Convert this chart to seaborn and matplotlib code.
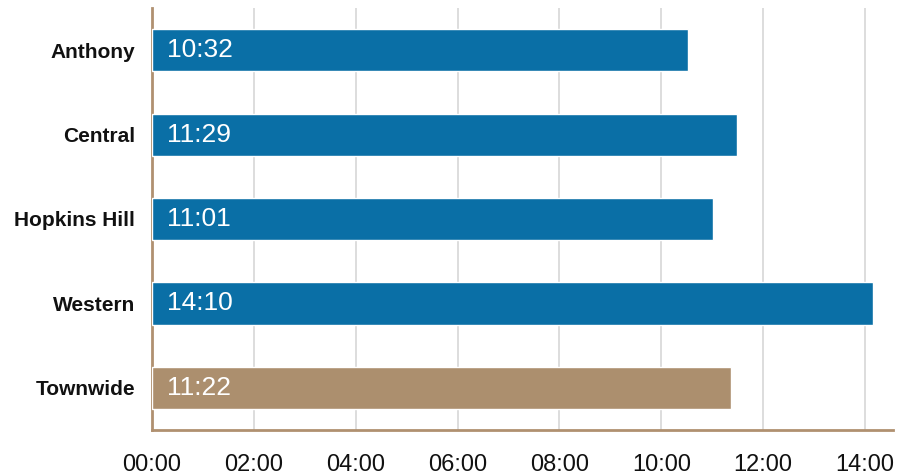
import matplotlib
matplotlib.use("Agg")
import matplotlib.pyplot as plt
import seaborn as sns
import pandas as pd

categories = ["Anthony", "Central", "Hopkins Hill", "Western", "Townwide"]
labels = ["10:32", "11:29", "11:01", "14:10", "11:22"]
minutes = [10 + 32/60, 11 + 29/60, 11 + 1/60, 14 + 10/60, 11 + 22/60]
tick_labels = ["00:00", "02:00", "04:00", "06:00", "08:00", "10:00", "12:00", "14:00"]

sns.set_theme(style="white")
plt.rcParams['font.family'] = ['Liberation Sans', 'DejaVu Sans']

df = pd.DataFrame({"cat": categories, "val": minutes, "lab": labels})
colors = ["#0A6FA6"] * 4 + ["#AC8F6E"]

fig = plt.figure(figsize=(9.01, 4.74), dpi=100)
ax = fig.add_axes([152/901, 1 - 430/474, (893 - 152)/901, (430 - 8)/474])

sns.barplot(data=df, y="cat", x="val", hue="cat", palette=colors, legend=False,
            orient="h", width=0.5, ax=ax, zorder=3, saturation=1)

ax.set_xlim(0, 14.55)
ax.set_ylim(4.5, -0.5)
ax.set_xticks(range(0, 15, 2))
ax.set_xticklabels(tick_labels, fontsize=17, color="#111111")
ax.tick_params(axis="y", labelsize=15, colors="#111111", length=0, pad=20)
ax.tick_params(axis="x", length=0, pad=17)
for t in ax.get_yticklabels():
    t.set_fontweight("bold")
ax.tick_params(axis="y", pad=12)
ax.set_xlabel("")
ax.set_ylabel("")
ax.grid(axis="x", color="#DADADA", linewidth=1.3, zorder=0)
ax.grid(axis="y", visible=False)
for s in ["top", "right"]:
    ax.spines[s].set_visible(False)
for s in ["left", "bottom"]:
    ax.spines[s].set_color("#B09070")
    ax.spines[s].set_linewidth(2)

for i, lab in enumerate(df["lab"]):
    ax.text(0.3, i, lab, color="white", fontsize=19, va="center", ha="left", zorder=4)

fig.savefig("out.png", dpi=100)
